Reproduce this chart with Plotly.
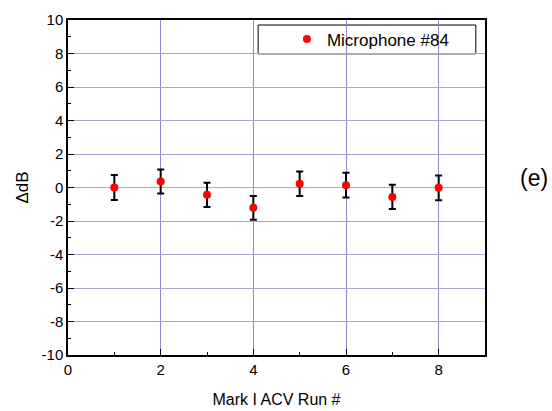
import plotly.graph_objects as go

runs = [1, 2, 3, 4, 5, 6, 7, 8]
delta_db = [0.0, 0.36, -0.44, -1.21, 0.22, 0.14, -0.56, -0.02]
err = [0.74, 0.72, 0.72, 0.71, 0.73, 0.74, 0.72, 0.74]
x_ticks = [0, 2, 4, 6, 8]
y_ticks = [-10, -8, -6, -4, -2, 0, 2, 4, 6, 8, 10]
y_ticklabels = [str(v) for v in y_ticks]

font = "Arial, Liberation Sans, sans-serif"

fig = go.Figure()
fig.add_trace(go.Scatter(
    x=runs, y=delta_db, mode="markers", name="Microphone #84",
    marker=dict(color="red", size=8),
    error_y=dict(type="data", array=err, color="black", thickness=2, width=3.5),
))

fig.update_layout(
    width=552, height=411,
    margin=dict(l=68, r=67, t=20, b=56),
    paper_bgcolor="white", plot_bgcolor="white",
    font=dict(family=font, size=15, color="black"),
    showlegend=True,
    legend=dict(x=0.525, y=0.942, xanchor="left", yanchor="middle",
                bgcolor="rgba(0,0,0,0)", borderwidth=0,
                font=dict(size=17, family=font)),
    xaxis=dict(range=[0, 9], tickvals=x_ticks, showgrid=True, gridcolor="#8c8cd0", gridwidth=1,
               zeroline=False, showline=True, linecolor="black", linewidth=1.5, mirror=True,
               ticks="inside", ticklen=6, tickcolor="black", automargin=False,
               minor=dict(tickvals=[1, 3, 5, 7], ticks="inside", ticklen=3, tickcolor="black", showgrid=False),
               title=dict(text="Mark I ACV Run #", font=dict(size=16), standoff=17),
               tickfont=dict(size=15)),
    yaxis=dict(range=[-10, 10], tickvals=y_ticks, ticktext=y_ticklabels, showgrid=True, gridcolor="#a8a8d8", gridwidth=1,
               zeroline=False, showline=True, linecolor="black", linewidth=1.5, mirror=True,
               ticks="inside", ticklen=6, tickcolor="black", automargin=False,
               minor=dict(tickvals=[-9, -7, -5, -3, -1, 1, 3, 5, 7, 9], ticks="inside", ticklen=3,
                          tickcolor="black", showgrid=False),
               title=dict(text="ΔdB", font=dict(size=17), standoff=9),
               tickfont=dict(size=15)),
    shapes=[dict(type="rect", xref="paper", yref="paper", x0=0.456, x1=0.978, y0=0.899, y1=0.985,
                 line=dict(color="black", width=1), fillcolor="white", layer="below")],
    annotations=[dict(text="(e)", xref="paper", yref="paper", x=(534 - 68) / 417, y=(355 - 178) / 335,
                      showarrow=False, font=dict(size=23, family=font), xanchor="center", yanchor="middle")],
)

fig.write_html("out.html", config={"displayModeBar": False},
               post_script="document.body.style.margin='0';document.body.style.overflow='hidden';")
